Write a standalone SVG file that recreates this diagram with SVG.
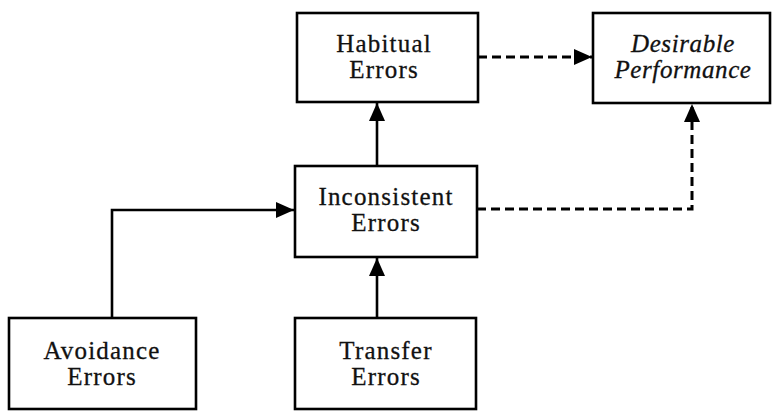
<svg xmlns="http://www.w3.org/2000/svg" width="772" height="411" viewBox="0 0 772 411">
<style>
.box{fill:#fff;stroke:#000;stroke-width:2.6}
.t{font-family:"Liberation Serif","Times New Roman",serif;font-size:25px;fill:#111;text-anchor:middle;letter-spacing:1.2px;stroke:#111;stroke-width:0.3}
.it{font-style:italic;letter-spacing:0.6px}
.ln{fill:none;stroke:#000;stroke-width:2.6}
.dash{stroke-width:3;stroke-dasharray:9,5}
</style>
<defs>
<marker id="ah" viewBox="0 0 18 16" refX="18" refY="8" markerWidth="18" markerHeight="16" markerUnits="userSpaceOnUse" orient="auto">
<path d="M0,0 L18,8 L0,16 Z" fill="#000"/>
</marker>
</defs>
<rect width="772" height="411" fill="#fff"/>
<g id="connectors">
<path class="ln dash" d="M478,57 L592,57" marker-end="url(#ah)"/>
<path class="ln" d="M377,166 L377,103" marker-end="url(#ah)"/>
<path class="ln dash" d="M477,209 L692,209 L692,104" marker-end="url(#ah)"/>
<path class="ln" d="M112,318 L112,210 L294,210" marker-end="url(#ah)"/>
<path class="ln" d="M377,318 L377,258" marker-end="url(#ah)"/>
</g>
<g id="habitual">
<rect class="box" x="297" y="13" width="181" height="89"/>
<text class="t" x="384" y="52">Habitual</text>
<text class="t" x="384" y="78">Errors</text>
</g>
<g id="desirable">
<rect class="box" x="593" y="13" width="177" height="90"/>
<text class="t it" x="683" y="52">Desirable</text>
<text class="t it" x="683" y="78">Performance</text>
</g>
<g id="inconsistent">
<rect class="box" x="295" y="166" width="182" height="91"/>
<text class="t" x="386" y="205">Inconsistent</text>
<text class="t" x="386" y="231">Errors</text>
</g>
<g id="avoidance">
<rect class="box" x="9" y="318" width="187" height="91"/>
<text class="t" x="102" y="359" letter-spacing="2">Avoidance</text>
<text class="t" x="102" y="385">Errors</text>
</g>
<g id="transfer">
<rect class="box" x="295" y="318" width="181" height="91"/>
<text class="t" x="386" y="359">Transfer</text>
<text class="t" x="386" y="385">Errors</text>
</g>
</svg>
